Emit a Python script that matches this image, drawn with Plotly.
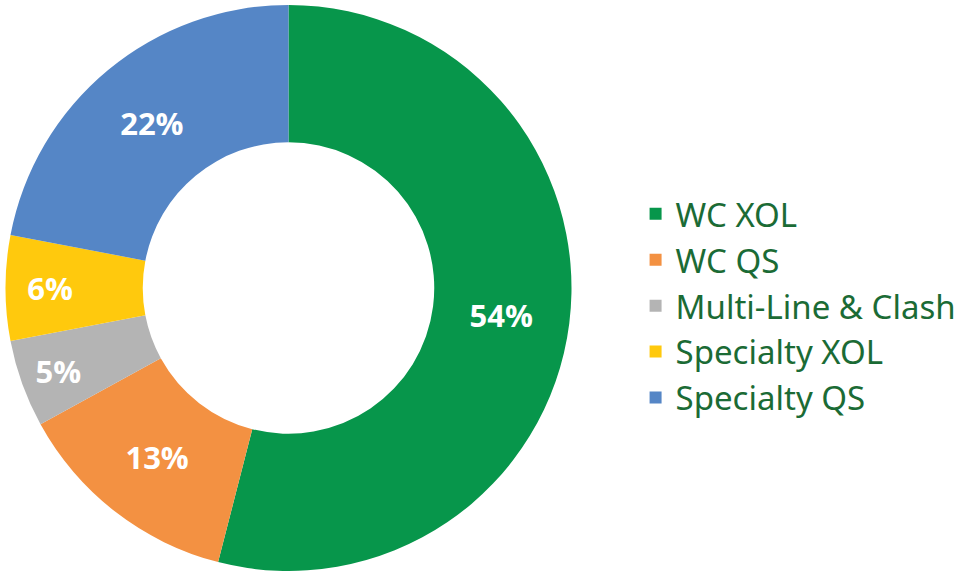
import plotly.graph_objects as go

categories = ["WC XOL", "WC QS", "Multi-Line &amp; Clash", "Specialty XOL", "Specialty QS"]
values = [54, 13, 5, 6, 22]
colors = ["#07964B", "#F39142", "#B4B4B4", "#FFC90D", "#5586C6"]

W, H = 963, 575
r = 283
cx, cy = 288.5, 288  # pie centre in pixels (from top-left)

fig = go.Figure(go.Pie(
    labels=categories,
    values=values,
    marker=dict(colors=colors, line=dict(width=0)),
    hole=0.515,
    sort=False,
    direction="clockwise",
    rotation=0,
    texttemplate="%{percent:.0%}",
    textposition="inside",
    insidetextorientation="horizontal",
    textfont=dict(family="Open Sans", size=31, color="white", weight="bold"),
    domain=dict(x=[(cx - r) / W, (cx + r) / W],
                y=[(H - cy - r) / H, (H - cy + r) / H]),
))

fig.update_layout(
    width=W, height=H,
    margin=dict(l=0, r=0, t=0, b=0),
    paper_bgcolor="white",
    plot_bgcolor="white",
    uniformtext=dict(minsize=31, mode="show"),
    legend=dict(
        x=0.660, y=0.468, xanchor="left", yanchor="middle",
        font=dict(family="Noto Sans", size=33, color="#1B6B35"),
        itemwidth=30,
        traceorder="normal",
        tracegroupgap=0,
    ),
)

fig.write_html("out.html", config={"displayModeBar": False},
               post_script="document.body.style.margin='0';")
